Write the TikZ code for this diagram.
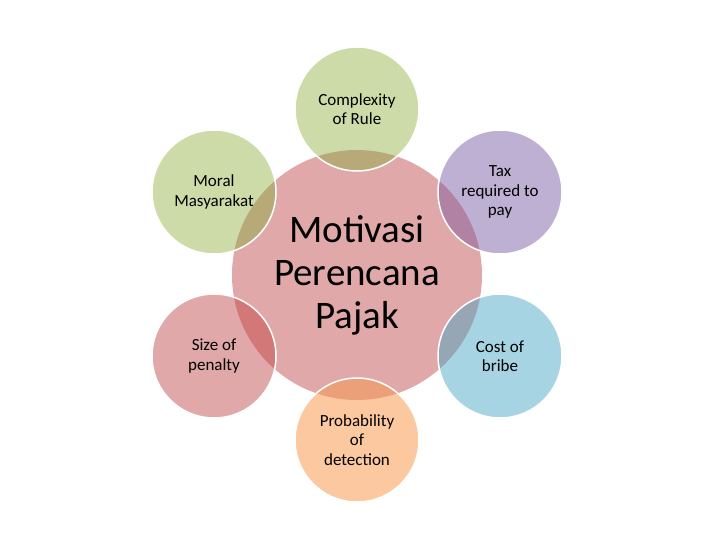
\documentclass[tikz,border=0pt]{standalone}
\usepackage{fontspec}
\setmainfont{Carlito}

\definecolor{motivpink}{RGB}{224,168,168}
\definecolor{rulegreen}{RGB}{205,219,168}
\definecolor{rulemix}{RGB}{184,170,120}
\definecolor{taxpurple}{RGB}{190,176,210}
\definecolor{taxmix}{RGB}{178,130,165}
\definecolor{bribeblue}{RGB}{167,212,226}
\definecolor{bribemix}{RGB}{150,166,180}
\definecolor{penaltypink}{RGB}{224,168,168}
\definecolor{penaltymix}{RGB}{210,120,120}
\definecolor{detectorange}{RGB}{251,200,160}
\definecolor{detectmix}{RGB}{236,160,122}

\begin{document}
\begin{tikzpicture}[x=1pt, y=-1pt,
  bubble/.style={circle, minimum size=124pt, inner sep=0pt, align=center,
    font=\fontsize{17}{19.5}\selectfont}]
\useasboundingbox (0,0) rectangle (720,540);

\node[circle, fill=motivpink, minimum size=250pt, inner sep=0pt, align=center,
  font=\fontsize{39}{43}\selectfont] (motiv) at (357,275) {Motivasi\\Perencana\\Pajak}; %center circle

\node[bubble, fill=rulegreen] (rule) at (357,109) {Complexity\\of Rule}; %top
\node[bubble, fill=rulegreen] (moral) at (214,192) {Moral\\Masyarakat}; %upper left
\node[bubble, fill=taxpurple] (tax) at (500,192) {Tax\\required to\\pay}; %upper right
\node[bubble, fill=penaltypink] (penalty) at (214,356) {Size of\\penalty}; %lower left
\node[bubble, fill=bribeblue] (bribe) at (500,356) {Cost of\\bribe}; %lower right
\node[bubble, fill=detectorange] (detect) at (357,440) {Probability\\of\\detection}; %bottom

\foreach \n/\c in {rule/rulemix, moral/rulemix, tax/taxmix, penalty/penaltymix, bribe/bribemix, detect/detectmix} {
  \begin{scope}
    \clip (motiv.center) circle (125pt);
    \fill[\c] (\n.center) circle (62pt); %darker overlap
  \end{scope}
  \draw[white, line width=1.5pt] (\n.center) circle (62pt); %white rim
}
\end{tikzpicture}
\end{document}
